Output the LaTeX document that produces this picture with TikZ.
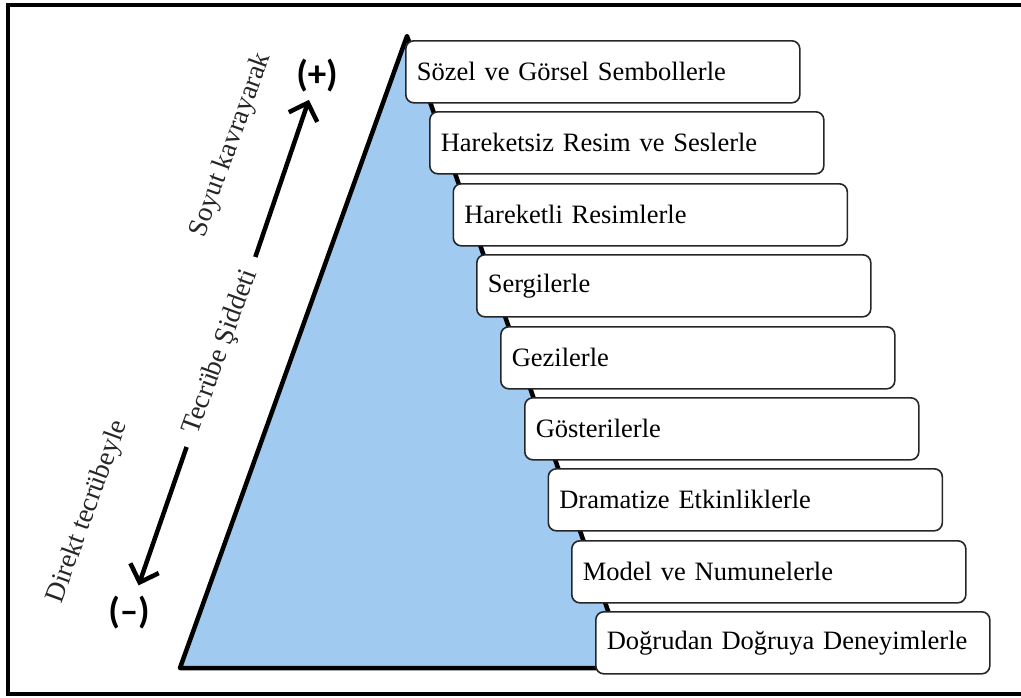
\documentclass[tikz,border=0pt]{standalone}
\usepackage{fontspec}
\setmainfont{Liberation Serif}
\newfontfamily\signfont{Carlito}
\usetikzlibrary{arrows.meta, positioning}
\definecolor{coneblue}{RGB}{160,202,240}

\begin{document}
\begin{tikzpicture}[x=1pt, y=1pt,
		levelbox/.style={
			draw=black!85,
			line width=1.6pt,
			fill=white,
			rounded corners=8pt,
			anchor=north west,
			minimum height=62pt,
			text width=372pt,
			inner xsep=11pt,
			align=left,
			font=\fontsize{26.5}{30}\selectfont
		},
		sidetext/.style={rotate=70, text=black!85, font=\fontsize{27.5}{30}\selectfont},
		sign/.style={font=\signfont\bfseries\fontsize{37}{40}\selectfont},
		bigarrow/.style={line width=4.5pt, -{Straight Barb[length=15pt, width=30pt]}}]
		\useasboundingbox (0,0) rectangle (1021,-697);
		\draw[line width=4pt] (1030,-5) -- (8,-5) -- (8,-694) -- (1030,-694);
		
		\coordinate (apex) at (407,-36);
		\coordinate (baseL) at (180,-668);
		\coordinate (baseR) at (628,-668);
		\draw[fill=coneblue, line width=4.5pt, line join=round] (baseL) -- (apex) -- (baseR) -- cycle;
		
		\node[levelbox] (verbal) at (405,-40) {Sözel ve Görsel Sembollerle};
		\node[levelbox] (still) at (429,-111) {Hareketsiz Resim ve Seslerle};
		\node[levelbox] (motion) at (452.5,-183) {Hareketli Resimlerle};
		\node[levelbox] (exhibit) at (476,-254) {Sergilerle};
		\node[levelbox] (trips) at (500,-326) {Gezilerle};
		\node[levelbox] (demo) at (524,-397) {Gösterilerle};
		\node[levelbox] (drama) at (547.5,-468) {Dramatize Etkinliklerle};
		\node[levelbox] (models) at (571,-540) {Model ve Numunelerle};
		\node[levelbox] (direct) at (595,-611) {Doğrudan Doğruya Deneyimlerle};
		
		\node[sign] (plus) at (317,-76) {(+)};
		\node[sign] (minus) at (129,-613) {(–)};
		\node[sidetext] (intensity) at (221,-352) {Tecrübe Şiddeti};
		\node[sidetext] (abstract) at (231,-145) {Soyut kavrayarak};
		\node[sidetext] (concrete) at (88,-512) {Direkt tecrübeyle};
		
		\draw[bigarrow, shorten <=11pt, shorten >=4pt] (intensity.east) -- (plus);
		\draw[bigarrow, shorten <=11pt, shorten >=8pt] (intensity.west) -- (minus);
	\end{tikzpicture}
\end{document}
